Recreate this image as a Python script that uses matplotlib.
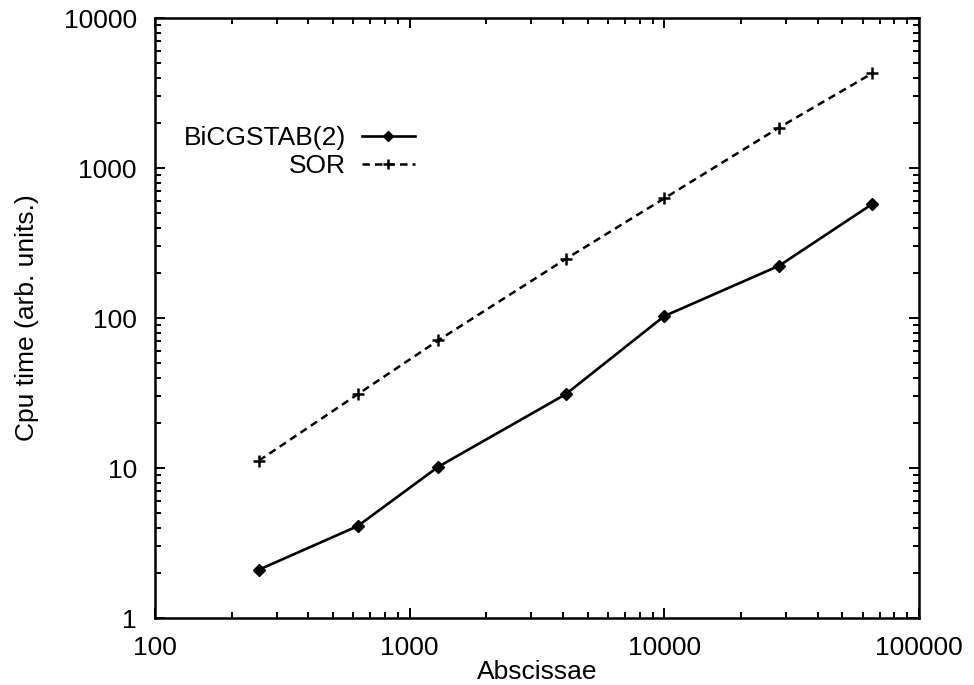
import matplotlib
matplotlib.use("Agg")
import matplotlib.pyplot as plt
from matplotlib.ticker import LogLocator, FixedLocator, NullFormatter

plt.rcParams['font.family'] = ['Liberation Sans', 'DejaVu Sans']

# grid sizes (abscissae) and cpu times
abscissae = [256, 625, 1296, 4096, 10000, 28224, 65536]
bicgstab = [2.1, 4.1, 10.2, 31, 103, 223, 575]
sor = [11.2, 31, 71, 247, 628, 1860, 4280]

xticks = [100, 1000, 10000, 100000]
yticks = [1, 10, 100, 1000, 10000]

fig = plt.figure(figsize=(9.74, 6.85), dpi=100)
ax = fig.add_axes([155 / 974, 1 - 618 / 685, 764 / 974, 600 / 685])

ax.plot(abscissae, bicgstab, color='black', lw=1.9, marker='D', ms=6,
        mfc='black', mec='black', label='BiCGSTAB(2)')
ax.plot(abscissae, sor, color='black', lw=1.8, ls=(0, (3, 2)), marker='+',
        ms=8, mew=1.8, label='SOR')

ax.set_xscale('log')
ax.set_yscale('log')
ax.set_xlim(100, 100000)
ax.set_ylim(1, 10000)
ax.xaxis.set_major_locator(FixedLocator(xticks))
ax.yaxis.set_major_locator(FixedLocator(yticks))
ax.set_xticklabels([str(t) for t in xticks])
ax.set_yticklabels([str(t) for t in yticks])
ax.xaxis.set_minor_locator(LogLocator(base=10, subs=range(2, 10), numticks=20))
ax.yaxis.set_minor_locator(LogLocator(base=10, subs=range(2, 10), numticks=20))
ax.xaxis.set_minor_formatter(NullFormatter())
ax.yaxis.set_minor_formatter(NullFormatter())

ax.tick_params(which='both', direction='in', top=True, right=True, width=1.4)
ax.tick_params(which='major', length=7, labelsize=19, pad=13)
ax.tick_params(which='minor', length=4)
ax.tick_params(axis='y', which='major', pad=13)
for s in ax.spines.values():
    s.set_linewidth(1.8)

ax.set_xlabel('Abscissae', fontsize=19, labelpad=0)
ax.set_ylabel('Cpu time (arb. units.)', fontsize=19, labelpad=18)

leg = ax.legend(loc='center right', bbox_to_anchor=(0.340, 0.777),
                bbox_transform=ax.transAxes, frameon=False, markerfirst=False,
                fontsize=19, handlelength=2.0, handletextpad=0.6,
                labelspacing=0.15, borderpad=0, borderaxespad=0, markerscale=0.9)

fig.savefig('out.png', dpi=100)
